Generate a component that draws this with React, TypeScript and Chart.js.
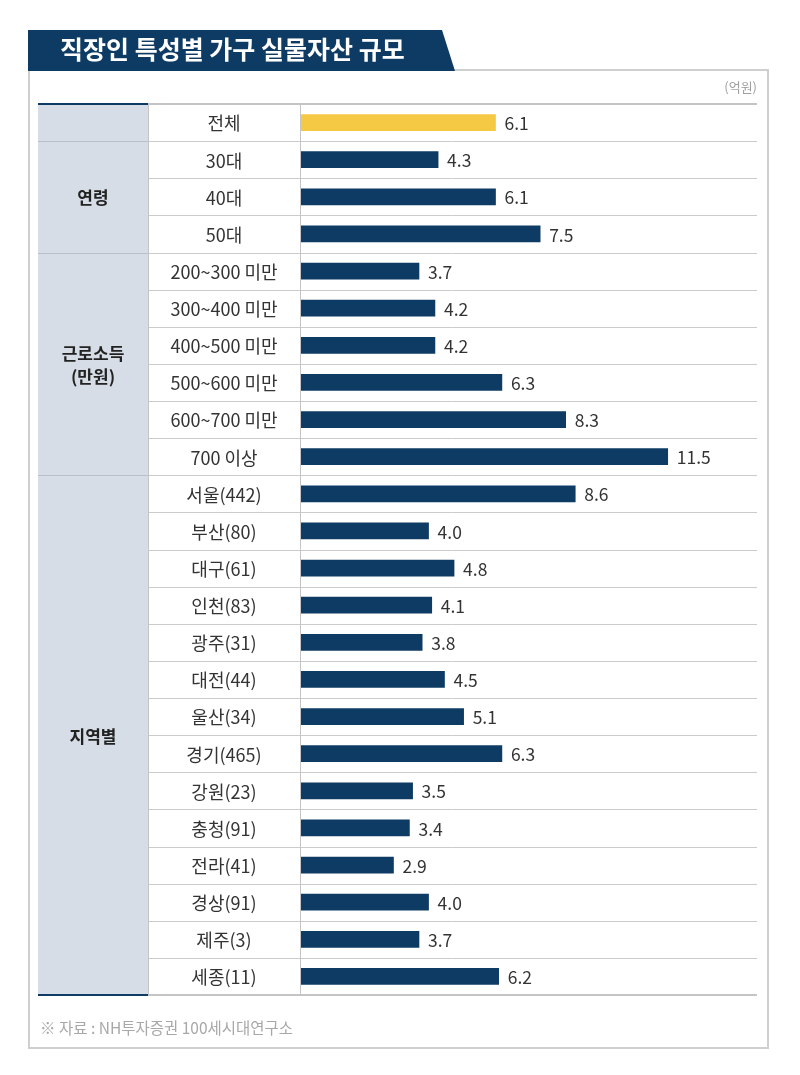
import { useEffect, useRef } from "react";
import { Chart, registerables } from "chart.js";

Chart.register(...registerables);

const titleText = "직장인 특성별 가구 실물자산 규모";
const unitText = "(억원)";
const sourceText = "※ 자료 : NH투자증권 100세시대연구소";

const categories = [
  "전체",
  "30대", "40대", "50대",
  "200~300 미만", "300~400 미만", "400~500 미만", "500~600 미만", "600~700 미만", "700 이상",
  "서울(442)", "부산(80)", "대구(61)", "인천(83)", "광주(31)", "대전(44)", "울산(34)",
  "경기(465)", "강원(23)", "충청(91)", "전라(41)", "경상(91)", "제주(3)", "세종(11)",
];

const values = [
  6.1,
  4.3, 6.1, 7.5,
  3.7, 4.2, 4.2, 6.3, 8.3, 11.5,
  8.6, 4.0, 4.8, 4.1, 3.8, 4.5, 5.1, 6.3, 3.5, 3.4, 2.9, 4.0, 3.7, 6.2,
];

const groupLabels = [[""], ["연령"], ["근로소득", "(만원)"], ["지역별"]];
const groupSizes = [1, 3, 6, 14];

const NAVY = "#0e3b64";
const YELLOW = "#f6c944";
const FONT = "'Noto Sans CJK KR', 'Noto Sans', sans-serif";

const tablePlugin = {
  id: "tablePlugin",
  beforeDraw(chart: any) {
    const ctx = chart.ctx as CanvasRenderingContext2D;
    const ys = chart.scales.y;
    const area = chart.chartArea;
    const n = categories.length;
    const step = ys.getPixelForValue(1) - ys.getPixelForValue(0);
    const top = ys.getPixelForValue(0) - step / 2;
    const bottom = ys.getPixelForValue(n - 1) + step / 2;
    const gx0 = 38, gx1 = 148, cx1 = area.left - 1, rx = 757;

    ctx.save();
    ctx.fillStyle = "#ffffff";
    ctx.fillRect(0, 0, chart.width, chart.height);

    // outer box
    ctx.strokeStyle = "#cfcfcf";
    ctx.lineWidth = 2;
    ctx.strokeRect(29, 70, 739, 978);

    // title banner
    ctx.fillStyle = NAVY;
    ctx.beginPath();
    ctx.moveTo(28, 30);
    ctx.lineTo(442, 30);
    ctx.lineTo(455, 71);
    ctx.lineTo(28, 71);
    ctx.closePath();
    ctx.fill();
    ctx.fillStyle = "#ffffff";
    ctx.font = `bold 25px ${FONT}`;
    ctx.textAlign = "left";
    ctx.textBaseline = "middle";
    ctx.fillText(titleText, 60, 49);

    // unit
    ctx.fillStyle = "#a0a0a0";
    ctx.font = `13px ${FONT}`;
    ctx.textAlign = "right";
    ctx.fillText(unitText, rx, 87);

    // group column background
    ctx.fillStyle = "#d6dde6";
    ctx.fillRect(gx0, top, gx1 - gx0, bottom - top);

    // row lines
    ctx.lineWidth = 1;
    ctx.strokeStyle = "#cbcbcb";
    for (let i = 1; i < n; i++) {
      const y = Math.round(top + i * step) + 0.5;
      ctx.beginPath();
      ctx.moveTo(gx1, y);
      ctx.lineTo(rx, y);
      ctx.stroke();
    }

    // group boundaries
    ctx.strokeStyle = "#b8c0c9";
    let acc = 0;
    for (let g = 0; g < groupSizes.length - 1; g++) {
      acc += groupSizes[g];
      const y = Math.round(top + acc * step) + 0.5;
      ctx.beginPath();
      ctx.moveTo(gx0, y);
      ctx.lineTo(gx1, y);
      ctx.stroke();
    }

    // vertical lines
    ctx.strokeStyle = "#c4c4c4";
    [gx1 + 0.5, cx1 + 0.5].forEach((x) => {
      ctx.beginPath();
      ctx.moveTo(x, top);
      ctx.lineTo(x, bottom);
      ctx.stroke();
    });

    // top and bottom rules
    ctx.lineWidth = 2;
    [top, bottom].forEach((y) => {
      ctx.strokeStyle = "#c4c4c4";
      ctx.beginPath();
      ctx.moveTo(gx1, y);
      ctx.lineTo(rx, y);
      ctx.stroke();
      ctx.strokeStyle = NAVY;
      ctx.beginPath();
      ctx.moveTo(gx0, y);
      ctx.lineTo(gx1, y);
      ctx.stroke();
    });

    // category labels
    ctx.fillStyle = "#333333";
    ctx.font = `18px ${FONT}`;
    ctx.textAlign = "center";
    ctx.textBaseline = "middle";
    const ccx = (gx1 + cx1) / 2;
    categories.forEach((c, i) => {
      ctx.fillText(c, ccx, ys.getPixelForValue(i) + 1);
    });

    // group labels
    ctx.fillStyle = "#222222";
    ctx.font = `bold 17px ${FONT}`;
    const gcx = (gx0 + gx1) / 2;
    let start = 0;
    groupLabels.forEach((lines, g) => {
      const end = start + groupSizes[g];
      const cy = top + ((start + end) / 2) * step;
      const lh = 23;
      lines.forEach((t, k) => {
        const y = cy + (k - (lines.length - 1) / 2) * lh + 1;
        ctx.fillText(t, gcx, y);
      });
      start = end;
    });

    // source
    ctx.fillStyle = "#a8a8a8";
    ctx.font = `15.5px ${FONT}`;
    ctx.textAlign = "left";
    ctx.fillText(sourceText, 40, 1028);
    ctx.restore();
  },
  afterDatasetsDraw(chart: any) {
    const ctx = chart.ctx as CanvasRenderingContext2D;
    const meta = chart.getDatasetMeta(0);
    ctx.save();
    ctx.fillStyle = "#333333";
    ctx.font = `17.5px ${FONT}`;
    ctx.textAlign = "left";
    ctx.textBaseline = "middle";
    meta.data.forEach((bar: any, i: number) => {
      ctx.fillText(values[i].toFixed(1), bar.x + 9, bar.y + 1);
    });
    ctx.restore();
  },
};

export default function App() {
  const ref = useRef<HTMLCanvasElement | null>(null);
  useEffect(() => {
    if (!ref.current) return;
    const chart = new Chart(ref.current, {
      type: "bar",
      data: {
        labels: categories,
        datasets: [
          {
            data: values,
            backgroundColor: values.map((_, i) => (i === 0 ? YELLOW : NAVY)),
            borderWidth: 0,
            barThickness: 16,
          },
        ],
      },
      options: {
        indexAxis: "y",
        responsive: false,
        animation: false,
        devicePixelRatio: 1,
        layout: { padding: { left: 301, right: 43, top: 104, bottom: 80 } },
        plugins: { legend: { display: false }, tooltip: { enabled: false } },
        scales: {
          x: { display: false, min: 0, max: 14.3 },
          y: { display: false },
        },
      },
      plugins: [tablePlugin],
    });
    return () => chart.destroy();
  }, []);
  return (
    <div style={{ position: "absolute", left: 0, top: 0, width: 800, height: 1075, background: "#fff" }}>
      <canvas ref={ref} width={800} height={1075} style={{ display: "block" }} />
    </div>
  );
}
